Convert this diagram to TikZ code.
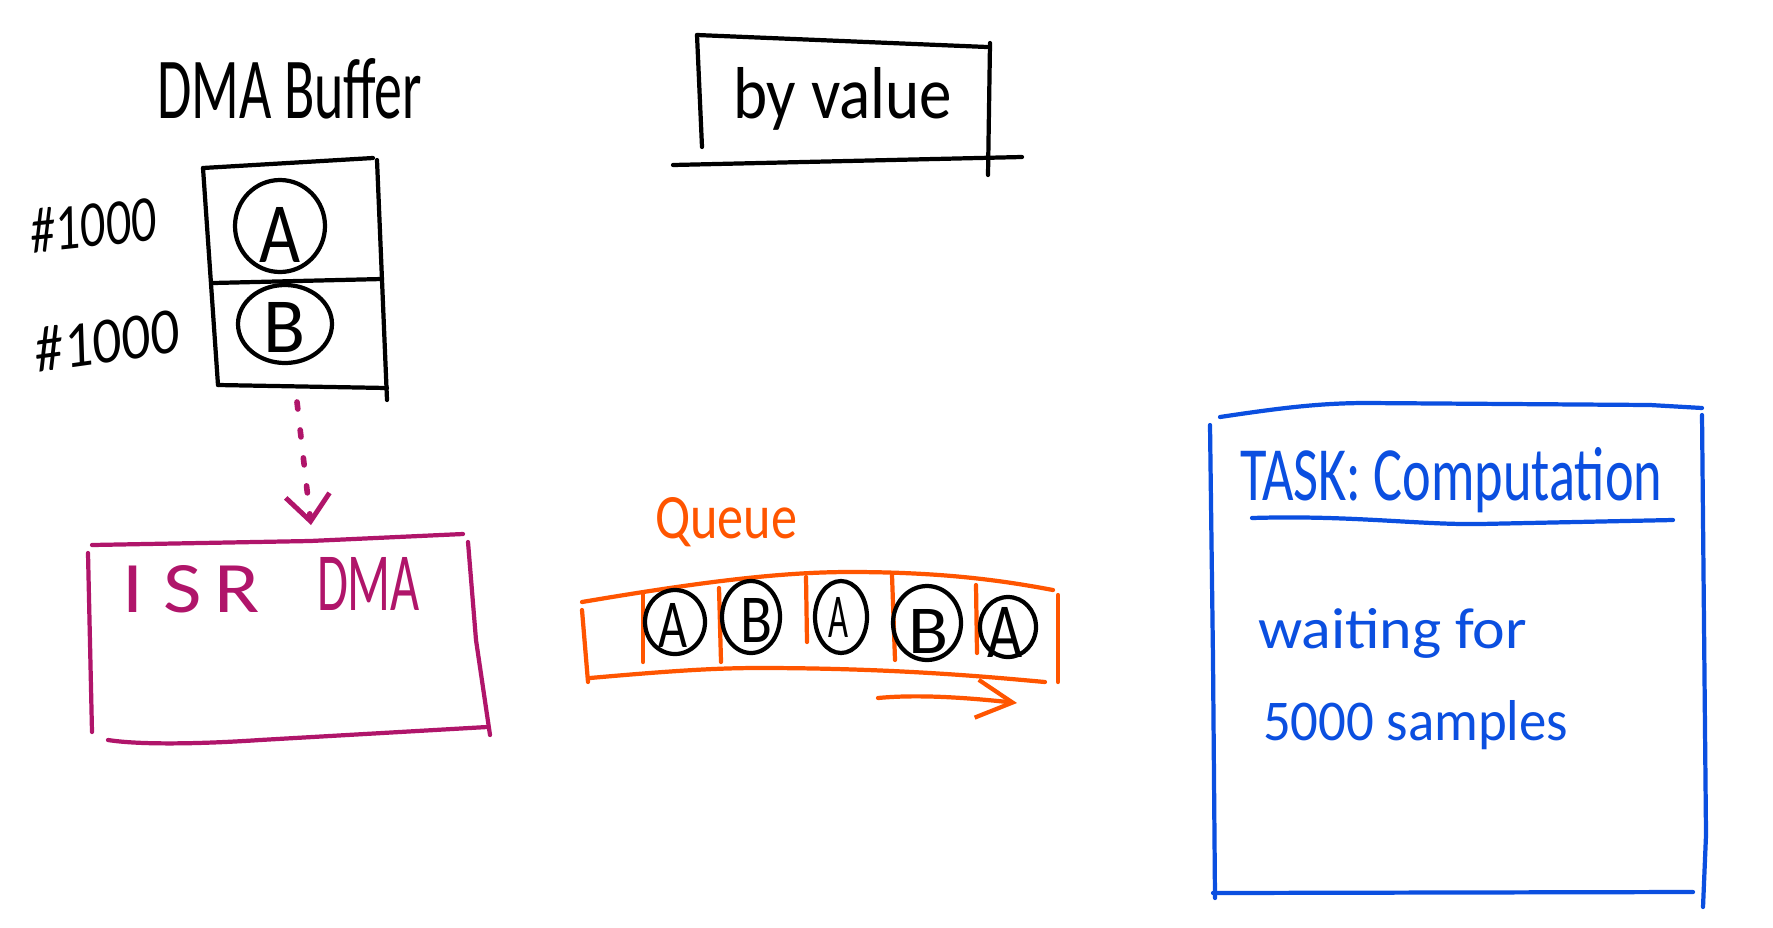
\documentclass[tikz,border=0pt]{standalone}
\usepackage{fontspec}
\setmainfont{Carlito}
\usetikzlibrary{arrows.meta}
\definecolor{isrc}{HTML}{B0156A}
\definecolor{qc}{HTML}{FF5500}
\definecolor{taskc}{HTML}{0B4FE0}
\newcommand{\fitt}[3]{\resizebox{#1cm}{#2cm}{#3}}
\begin{document}
\begin{tikzpicture}[x=0.01cm,y=-0.01cm,
  pen/.style={line width=1.2pt, line cap=round, line join=round},
  lbl/.style={inner sep=0pt, outer sep=0pt, anchor=base west},
]
\useasboundingbox (0,0) rectangle (1773,927);
\fill[white] (0,0) rectangle (1773,927);

% ---------- DMA buffer ----------
\node[lbl] (dmabuf) at (157,118) {\fitt{2.65}{0.60}{DMA Buffer}};
\node[lbl, rotate=6] (n1) at (32,253) {\fitt{1.26}{0.44}{\itshape\#1000}};
\node[lbl, rotate=8] (n2) at (38,372) {\fitt{1.44}{0.44}{\itshape\#1000}};
\draw[pen] (203,168) -- (373,158);
\draw[pen] (203,168) -- (218,385);
\draw[pen] (377,160) -- (387,400);
\draw[pen] (213,283) -- (382,279);
\draw[pen] (218,385) -- (387,388);
\draw[pen] (280,226) ellipse [x radius=45, y radius=46];
\node[lbl] (bufA) at (259,262) {\fitt{0.41}{0.55}{A}};
\draw[pen] (285,324) ellipse [x radius=47, y radius=39];
\node[lbl] (bufB) at (263,352) {\fitt{0.42}{0.50}{B}};

% ---------- by value ----------
\node[lbl] (byval) at (733,118) {\fitt{2.19}{0.51}{by value}};
\draw[pen] (697,35) -- (987,47);
\draw[pen] (697,35) -- (702,147);
\draw[pen] (990,43) -- (988,175);
\draw[pen] (673,165) -- (1022,157);

% ---------- dotted arrow ----------
\coordinate (bufbot) at (297,402);
\coordinate (isrtop) at (311,525);
\draw[isrc, line width=1.6pt, line cap=round, dash pattern=on 2pt off 6pt,
      -{Straight Barb[length=0.26cm,width=0.44cm,line width=1.4pt]}] (bufbot) -- (isrtop);

% ---------- ISR DMA ----------
\node[lbl, text=isrc] (isr) at (122,612) {\fitt{1.38}{0.47}{I\kern0.25em S\kern0.15em R}};
\node[lbl, text=isrc] (dma) at (317,610) {\fitt{1.03}{0.53}{DMA}};
\begin{scope}[isrc]
\draw[pen] (92,545) -- (310,541) -- (463,534);
\draw[pen] (88,553) -- (92,732);
\draw[pen] (468,542) -- (476,640) -- (490,735);
\draw[pen] (108,740) .. controls (140,745) and (200,744) .. (260,740) -- (487,727);
\end{scope}

% ---------- Queue ----------
\node[lbl, text=qc] (queue) at (655,538) {\fitt{1.42}{0.41}{Queue}};
\begin{scope}[qc]
\draw[pen] (582,602) .. controls (700,582) and (780,572) .. (850,572) .. controls (950,572) and (1010,582) .. (1053,590);
\draw[pen] (590,678) .. controls (680,670) and (720,668) .. (760,668) .. controls (900,668) and (1000,678) .. (1045,682);
\draw[pen] (582,610) -- (588,682);
\draw[pen] (1058,595) -- (1058,682);
\draw[pen] (643,593) -- (643,662);
\draw[pen] (719,588) -- (721,662);
\draw[pen] (806,577) -- (807,642);
\draw[pen] (892,575) -- (895,660);
\draw[pen] (976,585) -- (977,653);
\coordinate (qa0) at (878,698);
\coordinate (qa1) at (1017,703);
\draw[pen, -{Straight Barb[length=0.36cm,width=0.38cm,line width=1.2pt]}] (qa0) .. controls (920,694) and (970,698) .. (qa1);
\end{scope}
\draw[pen] (675,622) ellipse [x radius=30, y radius=32];
\node[lbl] (qA1) at (658,647) {\fitt{0.29}{0.44}{A}};
\draw[pen] (751,617) ellipse [x radius=29, y radius=36];
\node[lbl] (qB1) at (740,642) {\fitt{0.32}{0.44}{B}};
\draw[pen] (841,617) ellipse [x radius=26, y radius=36];
\node[lbl] (qA2) at (828,637) {\fitt{0.20}{0.40}{A}};
\draw[pen] (927,623) ellipse [x radius=34, y radius=37];
\node[lbl] (qB2) at (908,653) {\fitt{0.40}{0.44}{B}};
\draw[pen] (1008,627) ellipse [x radius=28, y radius=30];
\node[lbl] (qA3) at (987,657) {\fitt{0.35}{0.50}{A}};

% ---------- Task ----------
\node[lbl, text=taskc] (task) at (1240,500) {\fitt{4.22}{0.53}{TASK: Computation}};
\node[lbl, text=taskc] (wait) at (1258,648) {\fitt{2.69}{0.40}{waiting for}};
\node[lbl, text=taskc] (samp) at (1263,740) {\fitt{3.05}{0.40}{5000 samples}};
\begin{scope}[taskc]
\draw[pen] (1220,417) .. controls (1280,408) and (1320,403) .. (1367,403) -- (1650,405) -- (1702,408);
\draw[pen] (1210,425) -- (1213,660) -- (1215,898);
\draw[pen] (1702,415) -- (1706,835) -- (1703,907);
\draw[pen] (1213,893) -- (1693,892);
\draw[pen] (1252,518) .. controls (1350,515) and (1420,525) .. (1480,524) -- (1673,520);
\end{scope}
\end{tikzpicture}
\end{document}
